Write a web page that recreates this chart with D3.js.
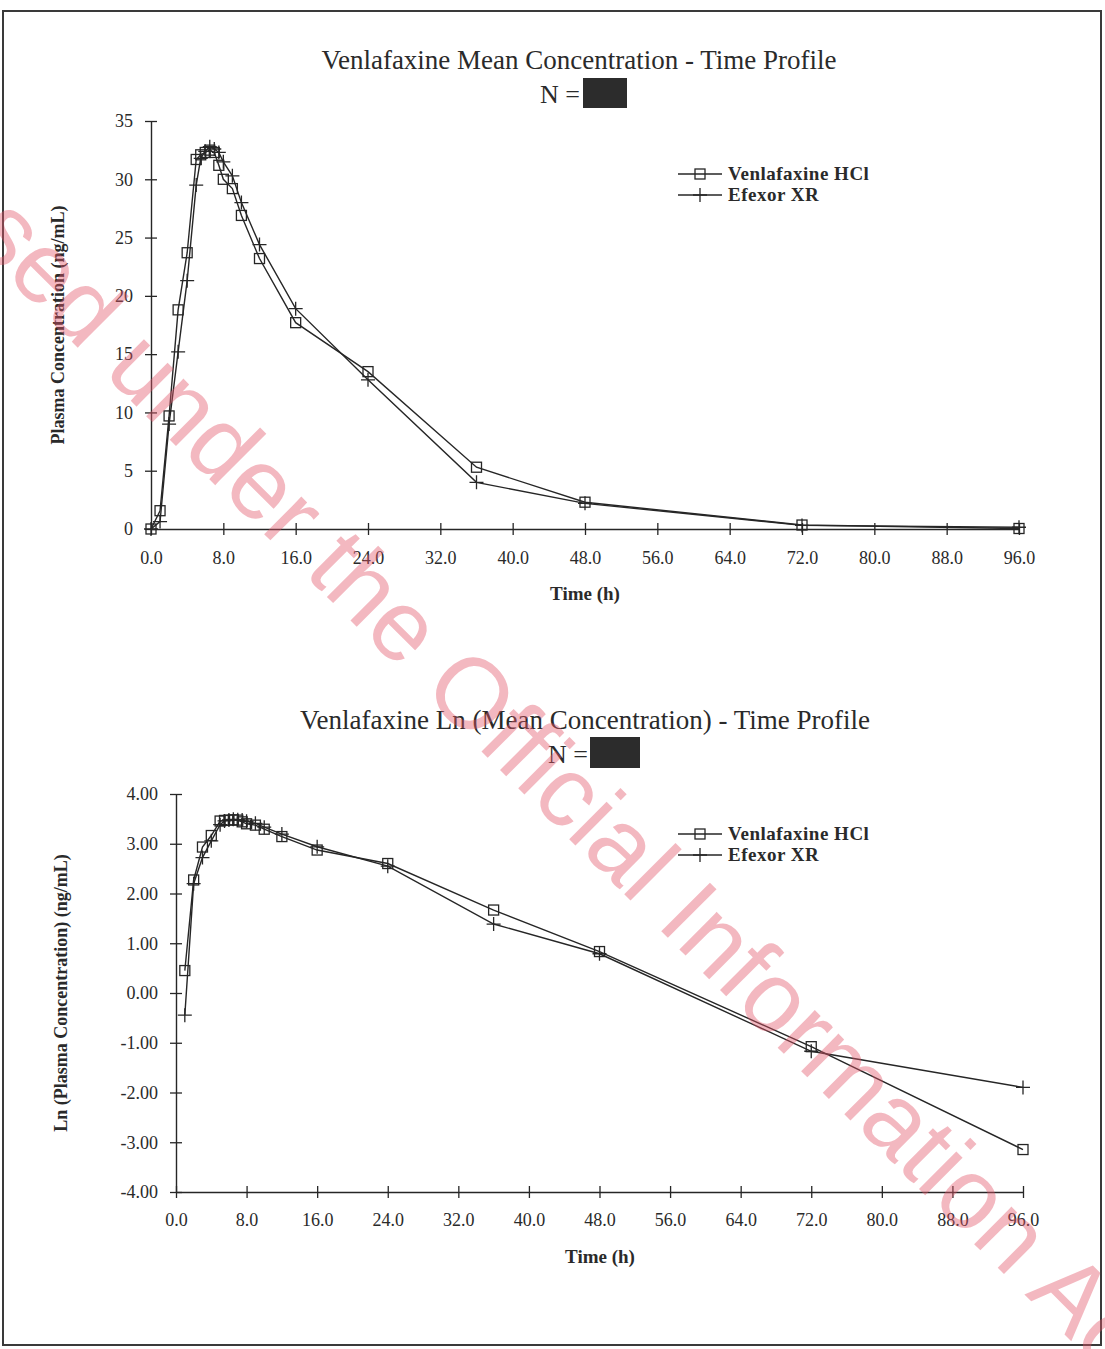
<!DOCTYPE html>
<html>
<head>
<meta charset="utf-8">
<script src="https://cdn.jsdelivr.net/npm/d3@7"></script>
<style>
  html, body { margin: 0; padding: 0; background: #fff; }
  svg { display: block; }
  text { font-family: "Liberation Serif", "Times New Roman", serif; fill: #2a2a2a; }
</style>
</head>
<body>
<svg id="page" width="1105" height="1349"></svg>
<script>
// Sampling times (h)
const times = [0, 1, 2, 3, 4, 5, 5.5, 6, 6.5, 7, 7.5, 8, 9, 10, 12, 16, 24, 36, 48, 72, 96];
// Mean plasma concentrations (ng/mL)
const venlafaxineHCl = [0, 1.57, 9.7, 18.8, 23.7, 31.7, 32.1, 32.3, 32.5, 32.3, 31.2, 30.0, 29.2, 26.9, 23.2, 17.7, 13.5, 5.3, 2.3, 0.34, 0.043];
const efexorXR      = [0, 0.64, 9.0, 15.2, 21.3, 29.5, 31.8, 32.4, 32.8, 32.6, 32.3, 31.5, 30.3, 28.0, 24.4, 18.9, 12.8, 4.0, 2.2, 0.31, 0.15];

const seriesNames = ["Venlafaxine HCl", "Efexor XR"];
const xTicks = [0, 8, 16, 24, 32, 40, 48, 56, 64, 72, 80, 88, 96];
const yTicksLinear = [0, 5, 10, 15, 20, 25, 30, 35];
const yTicksLn = [-4, -3, -2, -1, 0, 1, 2, 3, 4];

const titleLinear = "Venlafaxine Mean Concentration - Time Profile";
const titleLn = "Venlafaxine Ln (Mean Concentration) - Time Profile";
const yTitleLinear = "Plasma Concentration (ng/mL)";
const yTitleLn = "Ln (Plasma Concentration) (ng/mL)";
const xTitle = "Time (h)";
const watermark = "Released under the Official Information Act";

const INK = "#262626";
const svg = d3.select("#page");

// page frame
svg.append("rect")
  .attr("x", 3).attr("y", 11).attr("width", 1098).attr("height", 1334)
  .attr("fill", "none").attr("stroke", "#3a3a3a").attr("stroke-width", 2);

function squareMarker(g, x, y) {
  g.append("rect").attr("x", x - 5).attr("y", y - 5).attr("width", 10).attr("height", 10)
    .attr("fill", "none").attr("stroke", INK).attr("stroke-width", 1.3);
}
function plusMarker(g, x, y) {
  g.append("path").attr("d", `M${x - 7},${y}H${x + 7}M${x},${y - 7}V${y + 7}`)
    .attr("fill", "none").attr("stroke", INK).attr("stroke-width", 1.3);
}

// plain hyphen for negatives, as in the printed axis
const fmt2 = d => d.toFixed(2);

function drawPanel(cfg) {
  const g = svg.append("g");
  const x = d3.scaleLinear().domain([0, 96]).range(cfg.xRange);
  const y = d3.scaleLinear().domain(cfg.yDomain).range(cfg.yRange);

  // title
  g.append("text").attr("x", cfg.titleX).attr("y", cfg.titleY)
    .attr("text-anchor", "middle").attr("font-size", 27).text(cfg.title);
  g.append("text").attr("x", cfg.nX).attr("y", cfg.nY)
    .attr("text-anchor", "end").attr("font-size", 26).text("N =");
  g.append("rect").attr("x", cfg.box[0]).attr("y", cfg.box[1])
    .attr("width", cfg.box[2]).attr("height", cfg.box[3]).attr("fill", "#2c2c2c");

  // x axis
  const xAxis = g.append("g")
    .attr("transform", `translate(0,${cfg.yRange[0]})`)
    .call(d3.axisBottom(x).tickValues(xTicks).tickFormat(d => d.toFixed(1)).tickSizeOuter(0));
  xAxis.select(".domain").attr("stroke", INK).attr("stroke-width", 1.4);
  xAxis.selectAll(".tick line").attr("y1", -6).attr("y2", 6).attr("stroke", INK).attr("stroke-width", 1.3);
  xAxis.selectAll(".tick text").attr("y", cfg.xLabelOffset).attr("font-size", 18)
    .attr("font-family", "Liberation Serif").attr("fill", "#2a2a2a");

  // y axis
  const yAxis = g.append("g")
    .attr("transform", `translate(${cfg.xRange[0]},0)`)
    .call(d3.axisLeft(y).tickValues(cfg.yTicks).tickFormat(cfg.yFormat).tickSizeOuter(0));
  yAxis.select(".domain").attr("stroke", INK).attr("stroke-width", 1.4);
  yAxis.selectAll(".tick line").attr("x1", -6).attr("x2", 6).attr("stroke", INK).attr("stroke-width", 1.3);
  yAxis.selectAll(".tick text").attr("x", cfg.yLabelOffset).attr("font-size", 18)
    .attr("font-family", "Liberation Serif").attr("fill", "#2a2a2a");

  // axis titles
  g.append("text").attr("x", cfg.xTitlePos[0]).attr("y", cfg.xTitlePos[1])
    .attr("text-anchor", "middle").attr("font-size", 19).attr("font-weight", "bold").text(xTitle);
  g.append("text")
    .attr("transform", `translate(${cfg.yTitlePos[0]},${cfg.yTitlePos[1]}) rotate(-90)`)
    .attr("text-anchor", "middle").attr("font-size", 18).attr("font-weight", "bold").text(cfg.yTitle);

  // series
  const line = d3.line().x(d => x(d.t)).y(d => y(d.v));
  const series = [
    { values: cfg.transform(venlafaxineHCl), marker: squareMarker },
    { values: cfg.transform(efexorXR), marker: plusMarker }
  ];
  series.forEach(s => {
    const pts = times.map((t, i) => ({ t, v: s.values[i] })).filter(d => isFinite(d.v));
    g.append("path").datum(pts).attr("d", line)
      .attr("fill", "none").attr("stroke", INK).attr("stroke-width", 1.4);
    const mg = g.append("g");
    pts.forEach(d => s.marker(mg, x(d.t), y(d.v)));
  });

  // legend
  const lg = g.append("g");
  series.forEach((s, i) => {
    const ly = cfg.legendY + i * 21;
    lg.append("line").attr("x1", 678).attr("x2", 722).attr("y1", ly).attr("y2", ly)
      .attr("stroke", INK).attr("stroke-width", 1.3);
    s.marker(lg, 700, ly);
    lg.append("text").attr("x", 728).attr("y", ly + 6).attr("font-size", 19)
      .attr("font-weight", "bold").attr("letter-spacing", 0.5).text(seriesNames[i]);
  });
}

drawPanel({
  title: titleLinear, titleX: 579, titleY: 69,
  nX: 580, nY: 103, box: [583, 78, 44, 30],
  xRange: [151, 1019], yDomain: [0, 35], yRange: [529, 121],
  yTicks: yTicksLinear, yFormat: d3.format("d"),
  xLabelOffset: 22, yLabelOffset: -18,
  xTitlePos: [585, 600], yTitlePos: [64, 325], yTitle: yTitleLinear,
  legendY: 174,
  transform: arr => arr
});

drawPanel({
  title: titleLn, titleX: 585, titleY: 729,
  nX: 588, nY: 763, box: [590, 737, 50, 31],
  xRange: [176, 1023], yDomain: [-4, 4], yRange: [1192, 794],
  yTicks: yTicksLn, yFormat: fmt2,
  xLabelOffset: 21, yLabelOffset: -18,
  xTitlePos: [600, 1263], yTitlePos: [67, 993], yTitle: yTitleLn,
  legendY: 834,
  transform: arr => arr.map(v => v > 0 ? Math.log(v) : NaN)
});

// release stamp across the page
svg.append("text")
  .attr("transform", "translate(455,725) rotate(45)")
  .attr("text-anchor", "middle")
  .attr("font-size", 100)
  .attr("fill-opacity", 0.42)
  .style("font-family", "'Liberation Sans', Arial, sans-serif")
  .style("fill", "#e2566a")
  .text(watermark);
</script>
</body>
</html>
